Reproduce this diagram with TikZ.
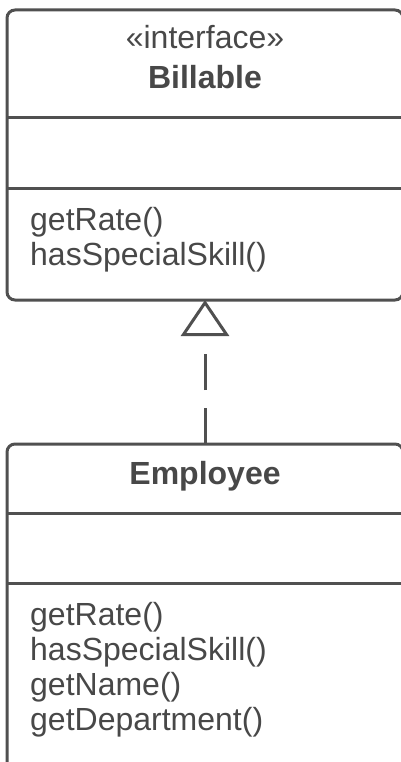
\documentclass[tikz,border=0pt]{standalone}
\usepackage{fontspec}
\setmainfont{Liberation Sans}
\usetikzlibrary{arrows.meta, positioning}

\definecolor{umlline}{RGB}{80,80,80}
\definecolor{umltext}{RGB}{72,72,72}

\begin{document}
\begin{tikzpicture}[
  x=1pt, y=-1pt,
  font=\fontsize{32}{35}\selectfont,
  classbox/.style={draw=umlline, line width=3pt, rounded corners=8pt, outer sep=0pt, minimum width=396pt},
  divider/.style={draw=umlline, line width=3pt},
  label/.style={text=umltext, inner sep=0pt},
  realize/.style={draw=umlline, line width=3pt, dash pattern=on 36pt off 18pt, -{Triangle[open, length=36pt, width=48pt]}}
]
\useasboundingbox (0,0) rectangle (400,762);

\node[classbox, minimum height=290pt] (billable) at (205,155) {};
\draw[divider] (billable.west |- 0,118) -- (billable.east |- 0,118);
\draw[divider] (billable.west |- 0,188) -- (billable.east |- 0,188);
\node[label, anchor=base] (billstereo) at (205,49) {«interface»};
\node[label, anchor=base, font=\fontsize{32}{35}\selectfont\bfseries] (billname) at (205,89) {Billable};
\foreach \op [count=\i] in {getRate(), hasSpecialSkill()}
  \node[label, anchor=base west] (billop\i) at (30,{195+35*\i}) {\op};

\node[classbox, minimum height=356pt] (employee) at (205,622) {};
\draw[divider] (employee.west |- 0,513) -- (employee.east |- 0,513);
\draw[divider] (employee.west |- 0,583) -- (employee.east |- 0,583);
\node[label, anchor=base, font=\fontsize{32}{35}\selectfont\bfseries] (empname) at (205,484) {Employee};
\foreach \op [count=\i] in {getRate(), hasSpecialSkill(), getName(), getDepartment()}
  \node[label, anchor=base west] (empop\i) at (30,{590+35*\i}) {\op};

\draw[realize] (employee.north) -- (billable.south);
\end{tikzpicture}
\end{document}
